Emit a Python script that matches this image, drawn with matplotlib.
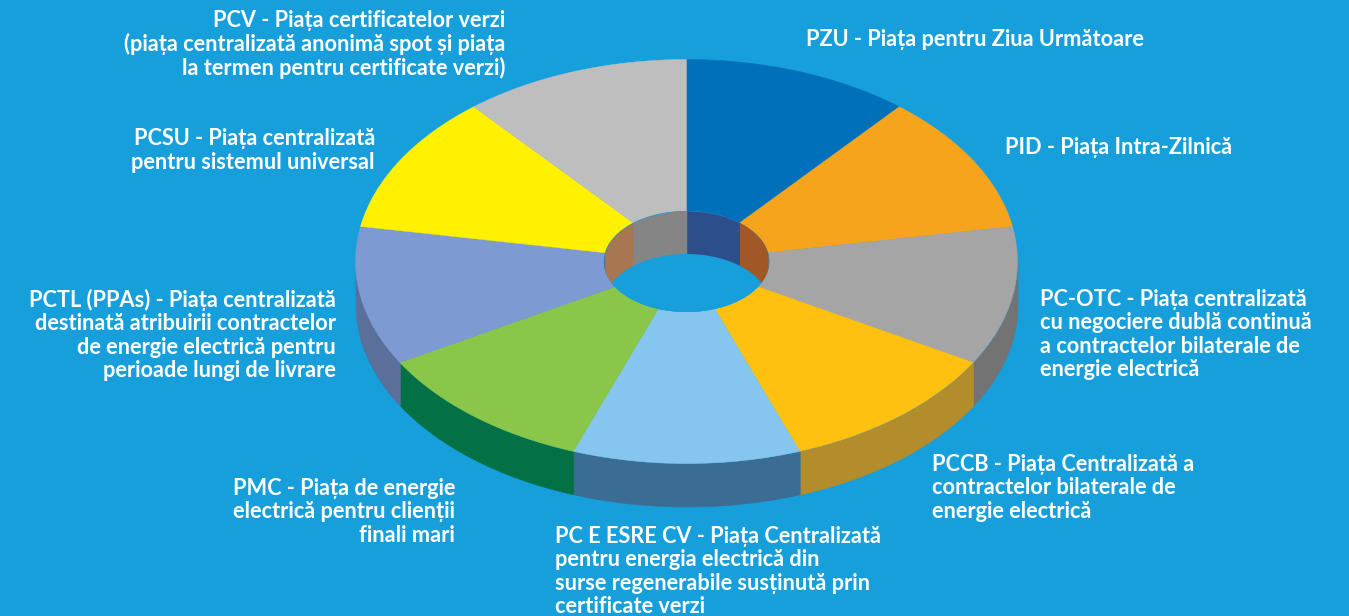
import matplotlib
matplotlib.use("Agg")
import matplotlib.pyplot as plt
from matplotlib.patches import Circle
import numpy as np

W, H = 1349, 616
bg = "#169fdb"

# the nine markets, clockwise from 12 o'clock, all the same share
shares = [1, 1, 1, 1, 1, 1, 1, 1, 1]
top_colors = ["#0070ba", "#f7a41d", "#a5a5a5", "#ffc010", "#86c6ee",
              "#89c649", "#7e9ad2", "#fff100", "#bebebe"]
wall_colors = ["#00548c", "#b67a16", "#737373", "#b38d2b", "#3b6d94",
               "#037145", "#5a6f9a", "#b3a900", "#858585"]
inner_colors = ["#2c4f8c", "#a25726", "#737373", "#b38d2b", "#3b6d94",
                "#037145", "#5a6f9a", "#a87650", "#858585"]

labels = [
    "PZU - Piața pentru Ziua Următoare",
    "PID - Piața Intra-Zilnică",
    "PC-OTC - Piața centralizată\ncu negociere dublă continuă\na contractelor bilaterale de\nenergie electrică",
    "PCCB - Piața Centralizată a\ncontractelor bilaterale de\nenergie electrică",
    "PC E ESRE CV - Piața Centralizată\npentru energia electrică din\nsurse regenerabile susținută prin\ncertificate verzi",
    "PMC - Piața de energie\nelectrică pentru clienții\nfinali mari",
    "PCTL (PPAs) - Piața centralizată\ndestinată atribuirii contractelor\nde energie electrică pentru\nperioade lungi de livrare",
    "PCSU - Piața centralizată\npentru sistemul universal",
    "PCV - Piața certificatelor verzi\n(piața centralizată anonimă spot și piața\nla termen pentru certificate verzi)",
]
# label anchor in pixels: x, y centre, alignment
label_x = [806, 1005, 1040, 932, 555, 455, 336, 375, 505]
label_y = [39, 147, 334.5, 488, 571.5, 512, 335, 150.5, 44.5]
label_ha = ["left", "left", "left", "left", "left", "right", "right", "right", "right"]

# geometry of the disc in pixels
cx, cy = 686.5, 261.5
rx, ry = 331, 202
hole = 0.25
depth = 43 / ry

plt.rcParams["font.family"] = ["Lato", "Open Sans", "DejaVu Sans"]

fig = plt.figure(figsize=(W / 100, H / 100), dpi=100, facecolor=bg)
ax = fig.add_axes([0, 0, 1, 1])

# walls first, the top of the disc goes over them
edges = 90 - np.cumsum([0] + shares) / sum(shares) * 360
for i in range(len(shares)):
    lo, hi = edges[i + 1], edges[i]
    # only the part on the front of the disc shows
    t = np.radians(np.linspace(lo, hi, 80))
    t = t[np.sin(t) <= 0.001]
    if len(t) > 1:
        ax.fill_between(np.cos(t), np.sin(t), np.sin(t) - depth,
                        color=wall_colors[i], lw=0.4, zorder=1)

wedges, _ = ax.pie(shares, colors=top_colors, startangle=90, counterclock=False,
                   radius=1, wedgeprops=dict(width=1 - hole, linewidth=0.3, zorder=2))
for w, c in zip(wedges, top_colors):
    w.set_edgecolor(c)

# inside of the hole: back wall then the floor, both cut by the hole edge
hole_patch = Circle((0, 0), hole, facecolor=bg, edgecolor="none", zorder=3)
ax.add_patch(hole_patch)
for i in range(len(shares)):
    lo, hi = edges[i + 1], edges[i]
    t = np.radians(np.linspace(lo, hi, 60))
    t = t[np.sin(t) >= -0.001]
    if len(t) > 1:
        p = ax.fill_between(hole * np.cos(t), hole * np.sin(t), hole * np.sin(t) - depth,
                            color=inner_colors[i], lw=0.3, zorder=4)
        p.set_clip_path(hole_patch)
floor = Circle((0, -depth), hole, facecolor=bg, edgecolor="none", zorder=5)
ax.add_patch(floor)
floor.set_clip_path(hole_patch)

ax.set_aspect("auto")
ax.set_xlim(-cx / rx, (W - cx) / rx)
ax.set_ylim(-(H - cy) / ry, cy / ry)
ax.axis("off")

for txt, x, y, ha in zip(labels, label_x, label_y, label_ha):
    fig.text(x / W, 1 - y / H, txt, color="white", fontsize=15.7, fontweight="bold",
             ha=ha, va="center", multialignment=ha, linespacing=1.13)

fig.savefig("out.png", dpi=100, facecolor=bg)
